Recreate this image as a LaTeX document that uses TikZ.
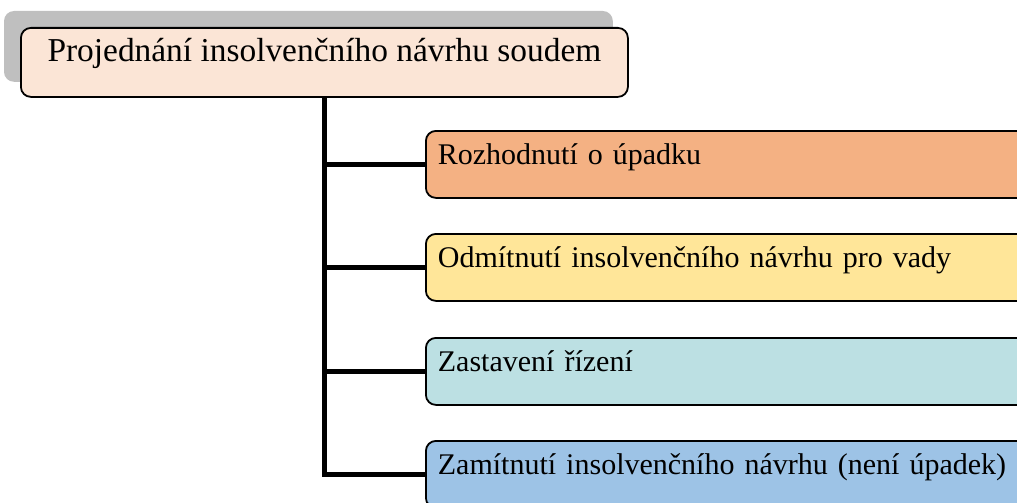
\documentclass[tikz,border=0pt]{standalone}
\usepackage{fontspec}
\setmainfont{Liberation Serif}
\usetikzlibrary{backgrounds}
\definecolor{topfill}{HTML}{FBE5D6}
\definecolor{shadowgray}{HTML}{BFBFBF}
\definecolor{orangefill}{HTML}{F4B183}
\definecolor{yellowfill}{HTML}{FFE699}
\definecolor{tealfill}{HTML}{BCE0E3}
\definecolor{bluefill}{HTML}{9DC3E6}
\tikzset{
  topbox/.style={draw=black, line width=1.8pt, rounded corners=10pt, fill=topfill,
    minimum width=607pt, inner xsep=0pt, inner ysep=0pt,
    text height=34pt, text depth=35pt,
    font=\fontsize{33.4}{40}\selectfont},
  itembox/.style={draw=black, line width=1.8pt, rounded corners=10pt,
    inner xsep=12pt, inner ysep=0pt, text width=596pt, align=left,
    text height=34pt, text depth=33pt, anchor=north west,
    font=\fontsize{30}{36}\selectfont},
  backshadow/.style={fill=shadowgray, rounded corners=10pt},
  trunk/.style={line width=5pt, draw=black}
}
\begin{document}
\begin{tikzpicture}[x=1pt,y=-1pt]
\useasboundingbox (0,0) rectangle (1017,503);
\clip (0,0) rectangle (1017,503);
\node[topbox, anchor=north west] (top) at (20,27) {Projednání insolvenčního návrhu soudem};
\begin{scope}[on background layer]
\fill[backshadow] ([shift={(-16,-16)}]top.north west) rectangle ([shift={(-16,-16)}]top.south east);
\end{scope}
\node[itembox, fill=orangefill] (b1) at (425,130) {Rozhodnutí o úpadku};
\node[itembox, fill=yellowfill] (b2) at (425,233) {Odmítnutí insolvenčního návrhu pro vady};
\node[itembox, fill=tealfill] (b3) at (425,337) {Zastavení řízení};
\node[itembox, fill=bluefill] (b4) at (425,440) {Zamítnutí insolvenčního návrhu (není úpadek)};
\draw[trunk] (top.south) |- (b1.west);
\draw[trunk] (top.south) |- (b2.west);
\draw[trunk] (top.south) |- (b3.west);
\draw[trunk] (top.south) |- (b4.west);
\end{tikzpicture}
\end{document}
